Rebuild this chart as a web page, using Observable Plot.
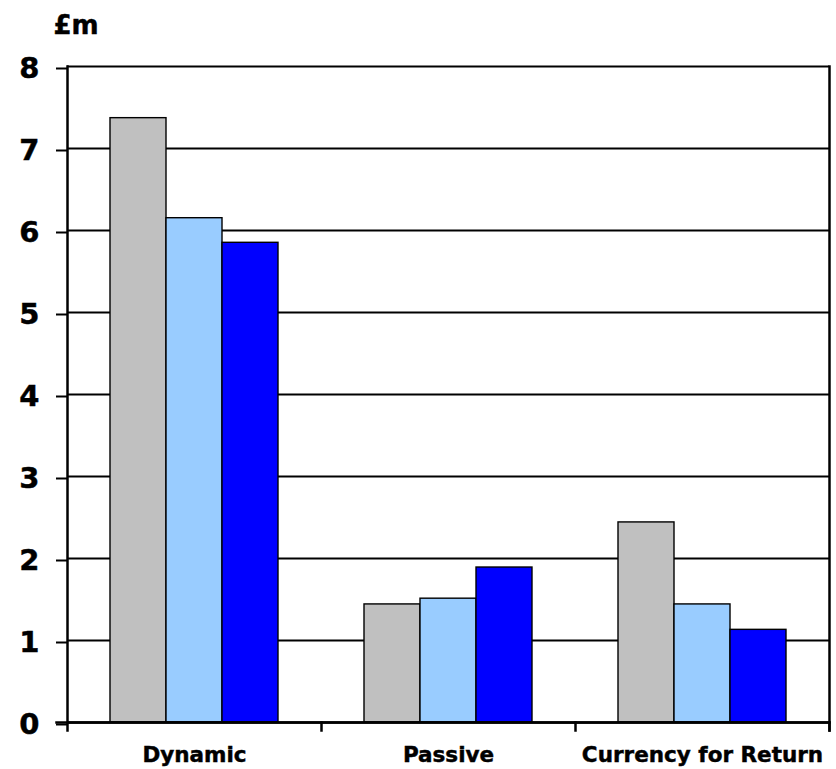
<!DOCTYPE html>
<html>
<head>
<meta charset="utf-8">
<script src="https://cdn.jsdelivr.net/npm/d3@7"></script>
<script src="https://cdn.jsdelivr.net/npm/@observablehq/plot@0.6"></script>
<style>
  html, body { margin: 0; padding: 0; background: #fff; overflow: hidden; }
  #chart { position: relative; width: 836px; height: 769px; }
  svg text { font-family: "DejaVu Sans", Verdana, sans-serif; font-weight: bold; stroke: #000; stroke-width: 0.45px; }
</style>
</head>
<body>
<div id="chart"></div>
<script>
const categories = ["Dynamic", "Passive", "Currency for Return"];
const series = ["Series A", "Series B", "Series C"];
const seriesColors = ["#c0c0c0", "#99ccff", "#0000ff"];
const valuesA = [7.37, 1.44, 2.44];
const valuesB = [6.15, 1.51, 1.44];
const valuesC = [5.85, 1.89, 1.13];
const yTicks = [0, 1, 2, 3, 4, 5, 6, 7, 8];
const yUnit = "£m";

const allValues = [valuesA, valuesB, valuesC];
const data = [];
categories.forEach((c, i) => {
  series.forEach((s, j) => data.push({category: c, series: s, value: allValues[j][i]}));
});

const W = 836, H = 769;
const mL = 67, mR = 7, mT = 66, mB = 47;
const plotH = H - mT - mB;

const chart = Plot.plot({
  width: W,
  height: H,
  marginLeft: mL,
  marginRight: mR,
  marginTop: mT,
  marginBottom: mB,
  style: {fontFamily: "DejaVu Sans, Verdana, sans-serif", fontWeight: "bold", background: "#fff", overflow: "visible"},
  fx: {domain: categories, padding: 0, label: null},
  x: {domain: series, paddingInner: 0, paddingOuter: 0.737, axis: null},
  y: {domain: [0, 8], ticks: yTicks, label: null},
  color: {domain: series, range: seriesColors},
  marks: [
    Plot.gridY(yTicks.filter(d => d > 0), {stroke: "#000", strokeOpacity: 1, strokeWidth: 2}),
    Plot.barY(data, {fx: "category", x: "series", y: "value", fill: "series", stroke: "#000", strokeWidth: 1.4}),
    Plot.ruleY([0], {stroke: "#000", strokeWidth: 2.5}),
    Plot.axisY(yTicks, {tickSize: 11, tickPadding: 17, dy: 2, tickFormat: d3.format("d"), fontSize: 29, fontWeight: "bold", stroke: "#000", strokeWidth: 2}),
    Plot.axisFx({anchor: "bottom", tickSize: 0, tickPadding: 24, fontSize: 21.5, fontWeight: "bold", label: null}),
    Plot.frame({anchor: "right", stroke: "#000", strokeWidth: 2.5, insetTop: plotH, insetBottom: -8}),
    Plot.frame({anchor: "left", stroke: "#000", strokeWidth: 2.5, insetBottom: -8, facet: "super"}),
    Plot.frame({anchor: "right", stroke: "#000", strokeWidth: 2.5, insetBottom: -8, facet: "super"}),
    Plot.frame({anchor: "bottom", stroke: "#000", strokeWidth: 2.5, insetLeft: -11, facet: "super"}),
    Plot.text([yUnit], {frameAnchor: "top-left", text: d => d, dx: -14, dy: -51, textAnchor: "start", fontSize: 26, fontWeight: "bold", facet: "super"})
  ]
});

document.getElementById("chart").appendChild(chart);
</script>
</body>
</html>
